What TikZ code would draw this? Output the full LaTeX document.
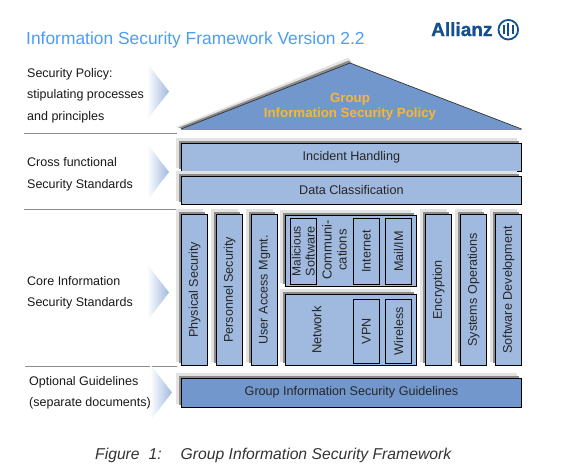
\documentclass[tikz,border=0pt]{standalone}
\usepackage{fontspec}
\setmainfont{Liberation Sans}
\newfontfamily\logofont[BoldFeatures={FakeBold=1}]{Liberation Sans}
\definecolor{boxblue}{HTML}{A0B9DF}
\definecolor{deepblue}{HTML}{7297CD}
\definecolor{shadelight}{HTML}{E2E2E2}
\definecolor{shadedark}{HTML}{8C8C8C}
\definecolor{titleblue}{HTML}{4B9EF5}
\definecolor{logoblue}{HTML}{14508F}
\definecolor{gold}{HTML}{F8B638}
\definecolor{rulegrey}{HTML}{8E8E8E}
\newcommand{\fsz}[2]{\fontsize{#1}{#2}\selectfont}
\tikzset{
  x=1pt,y=-1pt,
  secbox/.style={draw=black,line width=0.9pt,inner sep=0pt,align=center,text=black!85,font=\fsz{12.6}{14}},
  rowlabel/.style={anchor=base west,inner sep=0pt,text=black!90,font=\fsz{12.5}{14}},
  sepline/.style={draw=rulegrey,line width=0.8pt},
  chevron/.style={left color=white,right color=boxblue,shading angle=90},
}
% shadow pair behind a box
\newcommand{\shadowbox}[4]{%
  \fill[shadelight] (#1-5,#2-5) rectangle (#3-5,#4-3);
  \fill[shadedark] (#1-2.5,#2-2.5) rectangle (#3-2.5,#4-2);
}
% \secH{name}{x1}{y1}{x2}{y2}{colour}{text}: horizontal text
\newcommand{\secH}[7]{%
  \node[secbox,fill=#6,minimum width=#4-#2,minimum height=#5-#3] (#1) at ({(#2+#4)/2},{(#3+#5)/2}) {#7};
}
% \secV: text turned 90 degrees
\newcommand{\secV}[7]{%
  \node[secbox,fill=#6,rotate=90,minimum width=#5-#3,minimum height=#4-#2] (#1) at ({(#2+#4)/2},{(#3+#5)/2}) {#7};
}
\newcommand{\chev}[2]{% x, top
  \shade[chevron] (#1,#2) -- (#1+22,#2+28.5) -- (#1,#2+57) -- cycle;
}
\begin{document}
\begin{tikzpicture}
\useasboundingbox (0,0) rectangle (564,467);
\fill[white] (0,0) rectangle (564,467);

% title and logo
\node[anchor=base west,inner sep=0pt,text=titleblue,font=\fsz{17.4}{20}] (title) at (26,44) {Information Security Framework Version 2.2};
\node[anchor=base west,inner sep=0pt,text=logoblue,font=\logofont\bfseries\fsz{19}{20}] (logo) at (431,36) {Allianz};
\draw[logoblue,line width=1.8pt] (508.3,29.7) circle (9.8);
\draw[logoblue,line width=2.2pt] (508.3,23) -- (508.3,36.4);
\draw[logoblue,line width=2pt] (503.9,25) -- (503.9,34.4);
\draw[logoblue,line width=2pt] (512.7,25) -- (512.7,34.4);

% row labels
\node[rowlabel] (l1) at (27,77) {Security Policy:};
\node[rowlabel] (l2) at (27,98.5) {stipulating processes};
\node[rowlabel] (l3) at (27,120) {and principles};
\node[rowlabel] (l4) at (27,166) {Cross functional};
\node[rowlabel] (l5) at (27,188) {Security Standards};
\node[rowlabel] (l6) at (27,285) {Core Information};
\node[rowlabel] (l7) at (27,306) {Security Standards};
\node[rowlabel] (l8) at (29,385) {Optional Guidelines};
\node[rowlabel] (l9) at (29,406) {(separate documents)};

% separators
\draw[sepline] (24,133) -- (177,133);
\draw[sepline] (24,209) -- (177,209);
\draw[sepline] (25,366) -- (177,366);

% chevrons
\chev{147}{63}
\chev{147}{143.5}
\chev{147}{264}
\chev{150}{364}

% roof
\fill[shadelight] (176,127) -- (348,58) -- (352,62) -- (182,129) -- cycle;
\fill[shadedark] (179,127.5) -- (349,60.5) -- (351,63) -- (183,129) -- cycle;
\fill[deepblue] (181,129) -- (350,63) -- (521.5,129) -- cycle;
\draw[black!80,line width=0.7pt] (181,129) -- (350,63) -- (521.5,129);
\draw[black!45,line width=0.7pt] (181,129) -- (521.5,129);
\node[inner sep=0pt,align=center,text=gold,font=\bfseries\fsz{13.3}{15}] (roof) at (350,106.5) {Group\\Information Security Policy};

% cross functional
\shadowbox{181}{143}{521.5}{171}
\secH{inc}{181.3}{143}{521.5}{171}{boxblue}{Incident Handling}
\shadowbox{181}{176}{521.5}{204}
\secH{dat}{181.3}{176}{521.5}{204}{boxblue}{Data Classification}

% columns
\shadowbox{181.3}{214.3}{207.7}{365.3}
\secV{phy}{181.3}{214.3}{207.7}{365.3}{boxblue}{Physical Security}
\shadowbox{216.3}{214.3}{242.7}{365.3}
\secV{per}{216.3}{214.3}{242.7}{365.3}{boxblue}{Personnel Security}
\shadowbox{251.3}{214.3}{277.7}{365.3}
\secV{usr}{251.3}{214.3}{277.7}{365.3}{boxblue}{User Access Mgmt.}
\shadowbox{425.3}{214.3}{451.7}{365.3}
\secV{enc}{425.3}{214.3}{451.7}{365.3}{boxblue}{Encryption}
\shadowbox{460.3}{214.3}{486.7}{365.3}
\secV{sys}{460.3}{214.3}{486.7}{365.3}{boxblue}{Systems Operations}
\shadowbox{495.3}{214.3}{521.7}{365.3}
\secV{sof}{495.3}{214.3}{521.7}{365.3}{boxblue}{Software Development}

% communications group
\shadowbox{285}{215}{416.3}{286.3}
\secV{com}{285}{215}{416.3}{286.3}{boxblue}{}
\node[inner sep=0pt,rotate=90,align=center,text=black!85,font=\fsz{13}{15}] (comt) at (334.5,250) {Communi-\\cations};
\secV{mal}{290.3}{218.3}{316.3}{284.3}{boxblue}{\fsz{12}{11}Malicious\\Software}
\secV{int}{353.3}{218.3}{379.3}{284.3}{boxblue}{Internet}
\secV{mai}{385.3}{218.3}{411.7}{284.3}{boxblue}{Mail/IM}

% network group
\shadowbox{285}{294.3}{416.3}{365.3}
\secV{net}{285}{294.3}{416.3}{365.3}{boxblue}{}
\node[inner sep=0pt,rotate=90,text=black!85,font=\fsz{13}{15}] (nett) at (316.7,330) {Network};
\secV{vpn}{353.3}{299.3}{379.3}{363.3}{boxblue}{VPN}
\secV{wir}{385.3}{299.3}{411.7}{363.3}{boxblue}{Wireless}

% guidelines
\shadowbox{181.3}{378}{521.7}{407.3}
\secH{gui}{181.3}{378}{521.7}{407.3}{deepblue}{Group Information Security Guidelines}

% caption
\node[anchor=base west,inner sep=0pt,text=black!80,font=\itshape\fsz{15.7}{18}] (capa) at (95,459) {Figure\hspace{9pt}1:};
\node[anchor=base west,inner sep=0pt,text=black!80,font=\itshape\fsz{15.7}{18}] (capb) at (180.5,459) {Group Information Security Framework};
\end{tikzpicture}
\end{document}
